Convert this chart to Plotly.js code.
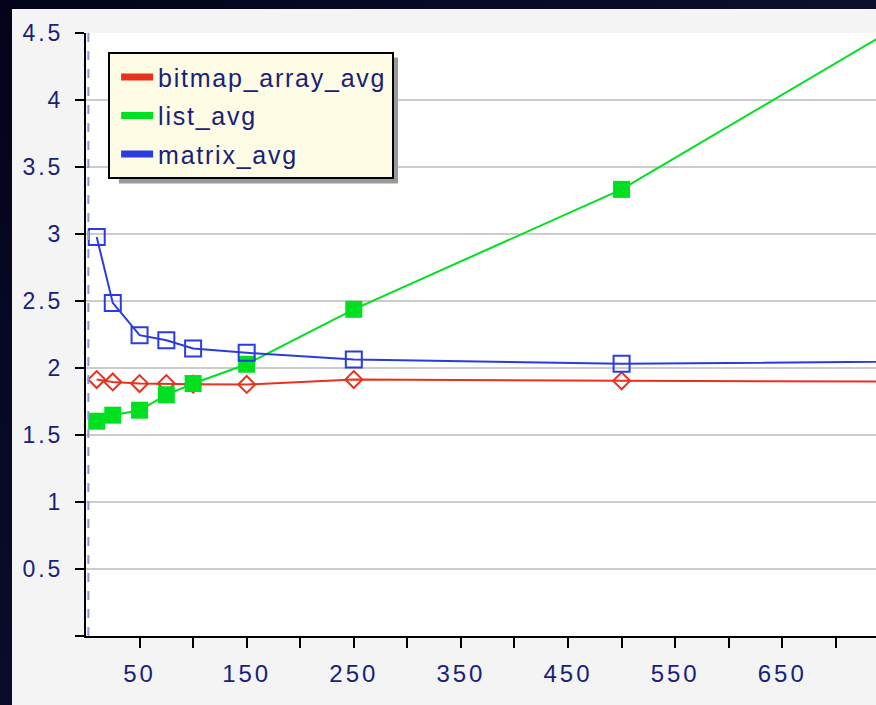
<!DOCTYPE html>
<html>
<head>
<meta charset="utf-8">
<script src="https://cdn.plot.ly/plotly-3.0.1.min.js"></script>
<style>
  html, body { margin:0; padding:0; width:876px; height:705px; overflow:hidden;
    background: linear-gradient(135deg, #03041a 0%, #0a0b28 40%, #1b1c3a 100%); }
  #chart { position:absolute; left:12px; top:9px; width:864px; height:696px; }
  .xtick text, .ytick text { letter-spacing: 3px; }
  .legendtext { letter-spacing: 1.75px; }
</style>
</head>
<body>
<div id="chart"></div>
<script>
// Data
const sizes = [10, 25, 50, 75, 100, 150, 250, 500, 1000];
const bitmapArrayAvg = [1.914, 1.896, 1.884, 1.884, 1.879, 1.877, 1.914, 1.904, 1.895];
const listAvg        = [1.603, 1.648, 1.685, 1.800, 1.884, 2.028, 2.438, 3.333, 5.69];
const matrixAvg      = [2.978, 2.486, 2.245, 2.207, 2.145, 2.113, 2.063, 2.031, 2.063];
const seriesNames = ['bitmap_array_avg', 'list_avg', 'matrix_avg'];
const seriesColors = ['#e8321e', '#00e020', '#2a3ce0'];
const xTickVals = [50, 100, 150, 200, 250, 300, 350, 400, 450, 500, 550, 600, 650, 700];
const xTickText = ['50', '', '150', '', '250', '', '350', '', '450', '', '550', '', '650', ''];
const yTickVals = [0, 0.5, 1, 1.5, 2, 2.5, 3, 3.5, 4, 4.5];
const yTickText = ['', '0.5', '1', '1.5', '2', '2.5', '3', '3.5', '4', '4.5'];

const navy = '#17217a';
const font = 'Liberation Sans, Arial, sans-serif';

const traces = [
  { x: sizes, y: bitmapArrayAvg, mode: 'lines+markers', showlegend: false,
    line: { color: seriesColors[0], width: 2 },
    marker: { symbol: 'diamond-open', size: 13, color: seriesColors[0], line: { width: 2, color: seriesColors[0] } } },
  { x: sizes, y: listAvg, mode: 'lines+markers', showlegend: false,
    line: { color: seriesColors[1], width: 2 },
    marker: { symbol: 'square', size: 17, color: seriesColors[1], line: { width: 0 } } },
  { x: sizes, y: matrixAvg, mode: 'lines+markers', showlegend: false,
    line: { color: seriesColors[2], width: 2 },
    marker: { symbol: 'square-open', size: 16, color: seriesColors[2], line: { width: 2, color: seriesColors[2] } } }
];
seriesNames.forEach((n, i) => {
  traces.push({ x: [null], y: [null], mode: 'lines', name: n, showlegend: true,
    legendgroup: n, line: { color: seriesColors[i], width: 7 } });
});

const layout = {
  width: 864, height: 696,
  margin: { l: 74, r: 0, t: 24, b: 69, pad: 0 },
  paper_bgcolor: '#f4f4f4',
  plot_bgcolor: '#ffffff',
  font: { family: font, color: navy },
  showlegend: true,
  legend: {
    x: 0.028, y: 0.968, xanchor: 'left', yanchor: 'top',
    bgcolor: '#fffce6', bordercolor: '#000000', borderwidth: 2,
    font: { family: font, size: 25, color: navy },
    traceorder: 'grouped', tracegroupgap: 3, itemwidth: 32, indentation: 6
  },
  xaxis: {
    range: [0, 737.5], tickmode: 'array', tickvals: xTickVals, ticktext: xTickText,
    ticks: 'outside', ticklen: 10, tickwidth: 2, tickcolor: '#000',
    showline: true, linecolor: '#000', linewidth: 2, showgrid: false, zeroline: false,
    tickfont: { family: font, size: 24, color: navy }, ticklabelstandoff: 5
  },
  yaxis: {
    range: [0, 4.5], tickmode: 'array', tickvals: yTickVals, ticktext: yTickText,
    ticks: 'outside', ticklen: 9, tickwidth: 2, tickcolor: '#000',
    showline: true, linecolor: '#000', linewidth: 2,
    showgrid: true, gridcolor: '#cccccc', gridwidth: 2, zeroline: false,
    tickfont: { family: font, size: 23, color: navy }, ticklabelstandoff: 7
  },
  shapes: [
    { type: 'line', xref: 'paper', yref: 'paper', x0: 0.003, x1: 0.003, y0: 0, y1: 1,
      line: { color: '#8a96e0', width: 2, dash: 'dash' }, layer: 'above' },
    { type: 'rect', xref: 'paper', yref: 'paper',
      x0: (119 - 86) / 790, x1: (398 - 86) / 790, y0: (636 - 183) / 603.5, y1: (636 - 57) / 603.5,
      fillcolor: '#9a9a9a', line: { width: 0 }, layer: 'above' }
  ]
};

Plotly.newPlot('chart', traces, layout, { staticPlot: true, displayModeBar: false });
</script>
</body>
</html>
